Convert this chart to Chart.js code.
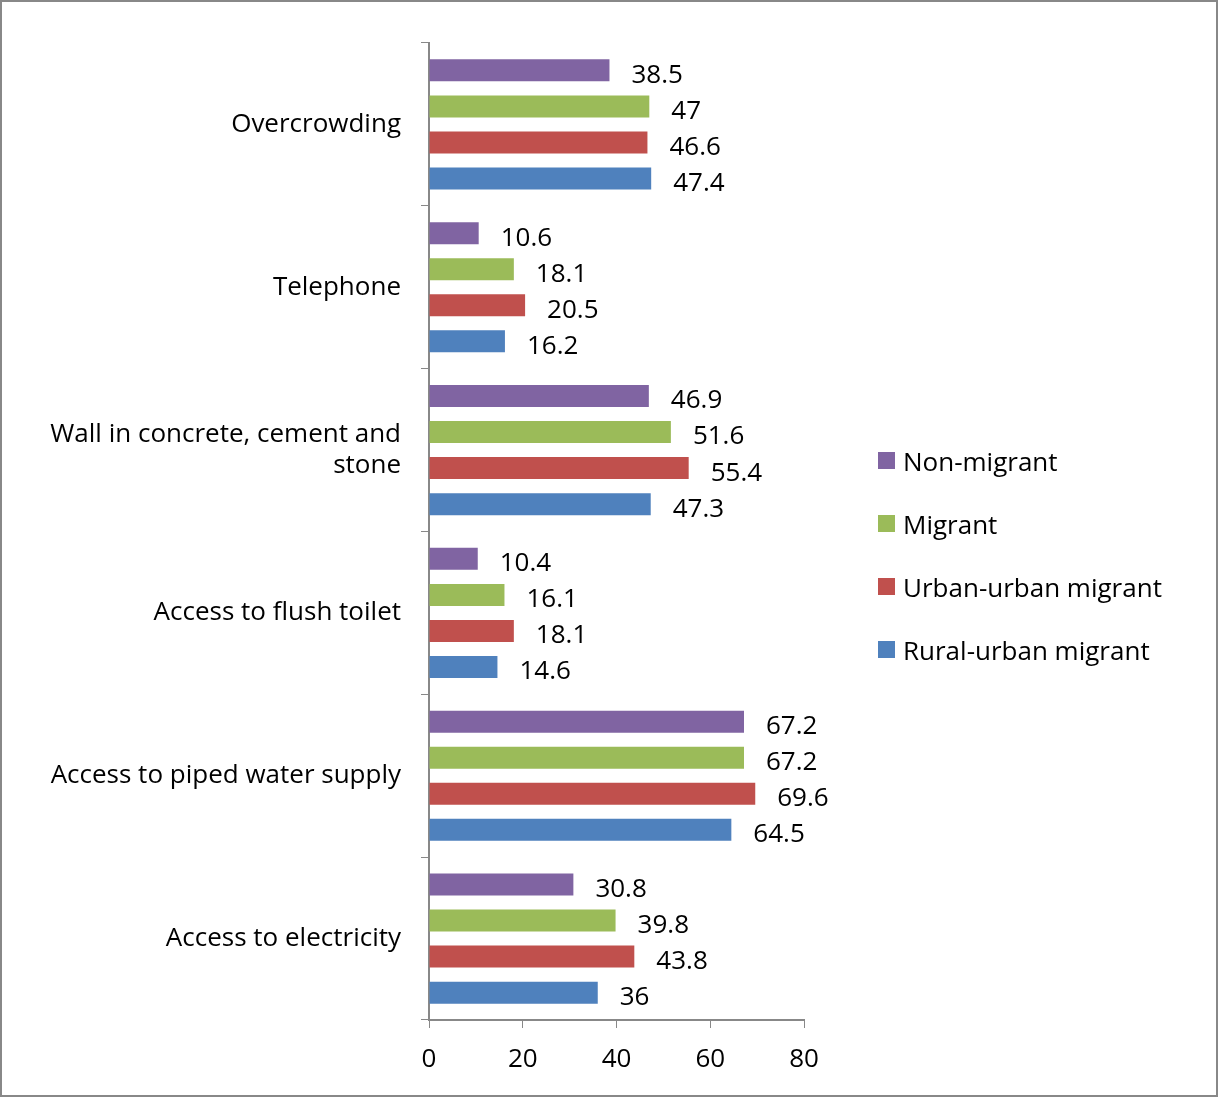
<!DOCTYPE html>
<html>
<head>
<meta charset="utf-8">
<script src="https://cdn.jsdelivr.net/npm/chart.js@4"></script>
<style>
  html, body { margin: 0; padding: 0; background: #fff; }
  #wrap { position: relative; width: 1218px; height: 1097px; box-sizing: border-box; border: 2px solid #888; }
  #legend { position: absolute; left: 876px; top: 441px; font-family: "Open Sans", sans-serif; font-size: 26px; color: #000; }
  #legend div { height: 63px; display: flex; align-items: flex-start; }
  #legend span.box { display: inline-block; width: 17px; height: 17px; margin: 9px 8px 0 0; }
</style>
</head>
<body>
<div id="wrap">
  <canvas id="c" width="1214" height="1093"></canvas>
  <div id="legend"></div>
</div>
<script>
// categories top to bottom
const categories = [
    'Overcrowding',
    'Telephone',
    ['Wall in concrete, cement and', 'stone'],
    'Access to flush toilet',
    'Access to piped water supply',
    'Access to electricity'
];
const seriesNames = ['Non-migrant', 'Migrant', 'Urban-urban migrant', 'Rural-urban migrant'];
const seriesColors = ['#8064A2', '#9BBB59', '#C0504D', '#4F81BD'];
const nonMigrant = [38.5, 10.6, 46.9, 10.4, 67.2, 30.8];
const migrant = [47, 18.1, 51.6, 16.1, 67.2, 39.8];
const urbanUrban = [46.6, 20.5, 55.4, 18.1, 69.6, 43.8];
const ruralUrban = [47.4, 16.2, 47.3, 14.6, 64.5, 36];
const xTicks = [0, 20, 40, 60, 80];

const seriesValues = [nonMigrant, migrant, urbanUrban, ruralUrban];
const FONT = '"Open Sans", sans-serif';

// value labels at bar ends
const valueLabels = {
    id: 'valueLabels',
    afterDatasetsDraw(chart) {
        const ctx = chart.ctx;
        ctx.save();
        ctx.font = '26px ' + FONT;
        ctx.fillStyle = '#000';
        ctx.textBaseline = 'middle';
        ctx.textAlign = 'left';
        chart.data.datasets.forEach((ds, i) => {
            chart.getDatasetMeta(i).data.forEach((bar, j) => {
                ctx.fillText(String(ds.data[j]), bar.x + 22, bar.y + 5);
            });
        });
        ctx.restore();
    }
};

new Chart(document.getElementById('c'), {
    type: 'bar',
    data: {
        labels: categories,
        datasets: seriesNames.map((name, i) => ({
            label: name,
            data: seriesValues[i],
            backgroundColor: seriesColors[i],
            categoryPercentage: 0.886,
            barPercentage: 0.61
        }))
    },
    options: {
        indexAxis: 'y',
        responsive: false,
        animation: false,
        layout: { padding: { top: 41, right: 412, left: 0, bottom: 0 } },
        plugins: { legend: { display: false }, tooltip: { enabled: false } },
        scales: {
            x: {
                min: 0, max: 80,
                afterBuildTicks: s => { s.ticks = xTicks.map(v => ({ value: v })); },
                afterFit: s => { s.height = 75; },
                grid: { drawOnChartArea: false, tickLength: 8, color: '#888' },
                border: { color: '#888', width: 2 },
                ticks: { color: '#000', font: { family: FONT, size: 26 }, padding: 16 }
            },
            y: {
                afterFit: s => { s.width = 427; },
                grid: { drawOnChartArea: false, offset: true, tickLength: 8, color: '#888' },
                border: { color: '#888', width: 2 },
                ticks: { color: '#000', font: { family: FONT, size: 26 }, padding: 20 }
            }
        }
    },
    plugins: [valueLabels]
});

const legend = document.getElementById('legend');
seriesNames.forEach((name, i) => {
    const row = document.createElement('div');
    row.innerHTML = `<span class="box" style="background:${seriesColors[i]}"></span>${name}`;
    legend.appendChild(row);
});
</script>
</body>
</html>
